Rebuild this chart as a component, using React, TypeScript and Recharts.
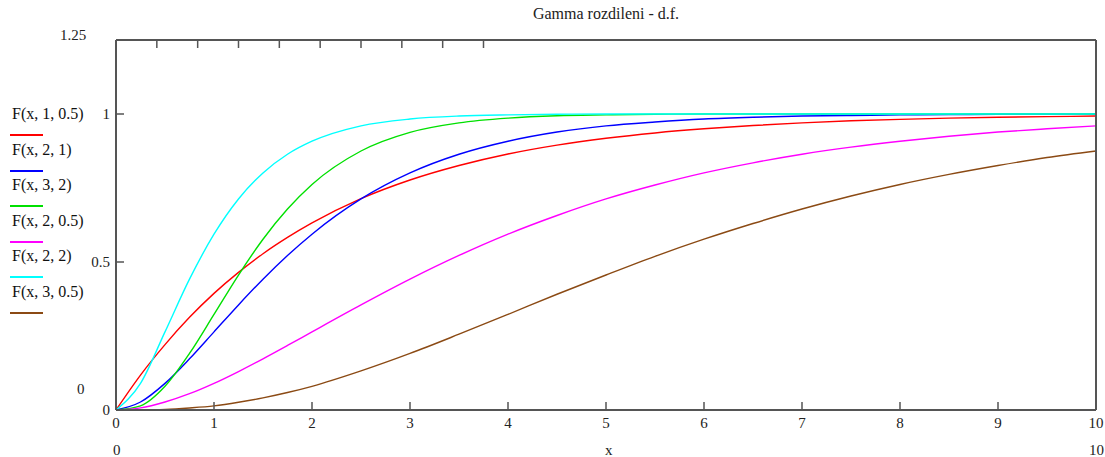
import React from 'react';
import { LineChart, Line, XAxis, YAxis, Legend } from 'recharts';

const xs = [0, 0.25, 0.5, 0.75, 1, 1.25, 1.5, 1.75, 2, 2.5, 3, 3.5, 4, 4.5, 5, 5.5, 6, 6.5, 7, 7.5, 8, 8.5, 9, 9.5, 10];

const f_1_05 = [0, 0.118, 0.221, 0.313, 0.394, 0.465, 0.528, 0.583, 0.632, 0.714, 0.777, 0.826, 0.865, 0.895, 0.918, 0.936, 0.95, 0.961, 0.97, 0.977, 0.982, 0.986, 0.989, 0.991, 0.993];
const f_2_1 = [0, 0.027, 0.09, 0.173, 0.264, 0.355, 0.442, 0.522, 0.594, 0.713, 0.801, 0.864, 0.908, 0.939, 0.96, 0.973, 0.983, 0.989, 0.993, 0.995, 0.997, 0.998, 0.999, 0.999, 1];
const f_3_2 = [0, 0.014, 0.08, 0.191, 0.323, 0.456, 0.577, 0.679, 0.762, 0.875, 0.938, 0.97, 0.986, 0.994, 0.997, 0.999, 1, 1, 1, 1, 1, 1, 1, 1, 1];
const f_2_05 = [0, 0.007, 0.027, 0.055, 0.09, 0.13, 0.173, 0.218, 0.264, 0.355, 0.442, 0.522, 0.594, 0.657, 0.713, 0.76, 0.801, 0.835, 0.864, 0.888, 0.908, 0.925, 0.939, 0.95, 0.96];
const f_2_2 = [0, 0.09, 0.264, 0.442, 0.594, 0.713, 0.801, 0.864, 0.908, 0.96, 0.983, 0.993, 0.997, 0.999, 1, 1, 1, 1, 1, 1, 1, 1, 1, 1, 1];
const f_3_05 = [0, 0.0003, 0.002, 0.007, 0.014, 0.026, 0.041, 0.059, 0.08, 0.132, 0.191, 0.256, 0.323, 0.391, 0.456, 0.519, 0.577, 0.63, 0.679, 0.723, 0.762, 0.796, 0.826, 0.853, 0.875];

const xTicks = [0, 1, 2, 3, 4, 5, 6, 7, 8, 9, 10];
const yTicks = [0, 0.5, 1];

const series = [
  { key: 'a', name: 'F(x, 1, 0.5)', color: '#ff0000', values: f_1_05 },
  { key: 'b', name: 'F(x, 2, 1)', color: '#0000ff', values: f_2_1 },
  { key: 'c', name: 'F(x, 3, 2)', color: '#00e000', values: f_3_2 },
  { key: 'd', name: 'F(x, 2, 0.5)', color: '#ff00ff', values: f_2_05 },
  { key: 'e', name: 'F(x, 2, 2)', color: '#00ffff', values: f_2_2 },
  { key: 'f', name: 'F(x, 3, 0.5)', color: '#8b4a14', values: f_3_05 },
];

const data = xs.map((x, i) => {
  const row: Record<string, number> = { x };
  series.forEach((s) => (row[s.key] = s.values[i]));
  return row;
});

const serif = '"Liberation Serif", "Times New Roman", serif';
const frame = '#555';
const tickFont = { fontFamily: serif, fontSize: 15, fill: '#222' };

// tick marks only, no text (top and right sides of the frame)
const noLabel = () => <g />;

function LegendBox() {
  return (
    <div style={{ fontFamily: serif }}>
      {series.map((s) => (
        <div key={s.key} style={{ height: 35.6 }}>
          <div style={{ fontSize: 16, lineHeight: '20px', color: '#111', marginLeft: 12, whiteSpace: 'nowrap' }}>{s.name}</div>
          <div style={{ marginTop: 10, marginLeft: 10, width: 33, height: 2, background: s.color }} />
        </div>
      ))}
    </div>
  );
}

const label = (left: number, top: number, text: string, extra: React.CSSProperties = {}) => (
  <div style={{ position: 'absolute', left, top, fontFamily: serif, fontSize: 15, lineHeight: '16px', color: '#222', whiteSpace: 'nowrap', ...extra }}>
    {text}
  </div>
);

export default function App() {
  // pinned to the page corner so the chart uses page coordinates
  return (
    <div style={{ position: 'absolute', left: 0, top: 0, width: 1105, height: 457, background: '#fff' }}>
      <LineChart width={1105} height={457} data={data} margin={{ top: 39, right: 8, left: 76, bottom: 22 }}>
        <XAxis
          dataKey="x"
          type="number"
          domain={[0, 10]}
          ticks={xTicks}
          interval={0}
          height={25}
          tickSize={-8}
          tickMargin={15}
          tick={tickFont}
          axisLine={{ stroke: frame, strokeWidth: 2 }}
          tickLine={{ stroke: frame, strokeWidth: 1.5 }}
        />
        <XAxis
          xAxisId="top"
          orientation="top"
          type="number"
          domain={[0, 10]}
          ticks={[1, 2, 3, 4, 5, 6, 7, 8, 9]}
          interval={0}
          height={1}
          tickSize={-8}
          tick={noLabel}
          axisLine={{ stroke: frame, strokeWidth: 2 }}
          tickLine={{ stroke: frame, strokeWidth: 1.5 }}
        />
        <YAxis
          type="number"
          domain={[0, 1.25]}
          ticks={yTicks}
          interval={0}
          width={40}
          tickSize={-8}
          tickMargin={14}
          tick={tickFont}
          axisLine={{ stroke: frame, strokeWidth: 2 }}
          tickLine={{ stroke: frame, strokeWidth: 1.5 }}
        />
        <YAxis
          yAxisId="right"
          orientation="right"
          type="number"
          domain={[0, 1.25]}
          ticks={[0.5, 1]}
          interval={0}
          width={1}
          tickSize={-8}
          tick={noLabel}
          axisLine={{ stroke: frame, strokeWidth: 2 }}
          tickLine={{ stroke: frame, strokeWidth: 1.5 }}
        />
        {series.map((s) => (
          <Line
            key={s.key}
            dataKey={s.key}
            name={s.name}
            type="monotone"
            stroke={s.color}
            strokeWidth={1.4}
            dot={false}
            isAnimationActive={false}
          />
        ))}
        <Legend
          layout="horizontal"
          verticalAlign="middle"
          align="center"
          content={() => <LegendBox />}
          wrapperStyle={{ position: 'absolute', left: 0, top: 104, width: 110, height: 220 }}
        />
      </LineChart>
      {label(606, 6, 'Gamma rozdileni - d.f.', { transform: 'translateX(-50%)', fontSize: 16 })}
      {label(60, 27, '1.25')}
      {label(77, 381, '0')}
      {label(113, 442, '0')}
      {label(1089, 442, '10')}
      {label(605, 442, 'x')}
    </div>
  );
}
